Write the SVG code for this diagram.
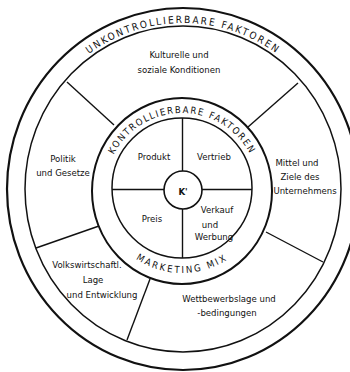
<svg xmlns="http://www.w3.org/2000/svg" width="350" height="372" viewBox="0 0 350 372">
<style>
.ring{fill:none;stroke:#111;}
.div{stroke:#111;stroke-width:1.4;fill:none;}
.t{font-family:"DejaVu Sans Condensed","Liberation Sans",sans-serif;font-size:9.5px;fill:#111;text-anchor:middle;}
.c{font-family:"DejaVu Sans Condensed","Liberation Sans",sans-serif;fill:#111;text-anchor:middle;}
</style>
<defs>
<path id="pOuter" d="M 21 189 A 162 166 0 0 1 345 189"/>
<path id="pTop" d="M 105 190 A 77 77 0 0 1 259 190"/>
<path id="pBot" d="M 99 190 A 83 83 0 0 0 265 190"/>
</defs>
<rect width="350" height="372" fill="#fff"/>
<g id="rings">
<ellipse class="ring" cx="183" cy="189" rx="176" ry="181" stroke-width="2.2"/>
<ellipse class="ring" cx="183" cy="189" rx="158" ry="163" stroke-width="1.5"/>
<ellipse class="ring" cx="182" cy="191" rx="90" ry="93" stroke-width="2"/>
<circle class="ring" cx="182" cy="188" r="70" stroke-width="1.5"/>
</g>
<g id="connectors">
<line class="div" x1="67" y1="82" x2="114" y2="125"/>
<line class="div" x1="298" y1="83" x2="248" y2="127" stroke-width="1"/>
<line class="div" x1="36" y1="248" x2="99" y2="226"/>
<line class="div" x1="266" y1="232" x2="323" y2="262"/>
<line class="div" x1="150" y1="279" x2="127" y2="340"/>
<line class="div" x1="112" y1="189.5" x2="164" y2="189.5"/>
<line class="div" x1="202" y1="189.5" x2="252" y2="189.5"/>
<line class="div" x1="182.5" y1="118" x2="182.5" y2="171"/>
<line class="div" x1="182.5" y1="209" x2="182.5" y2="258"/>
</g>
<g id="band-labels">
<text class="c" font-size="10" letter-spacing="2"><textPath href="#pOuter" startOffset="50%">UNKONTROLLIERBARE  FAKTOREN</textPath></text>
<text class="c" font-size="9.5" letter-spacing="1.6"><textPath href="#pTop" startOffset="50%">KONTROLLIERBARE  FAKTOREN</textPath></text>
<text class="c" font-size="9.5" letter-spacing="2.2"><textPath href="#pBot" startOffset="50%">MARKETING MIX</textPath></text>
</g>
<g id="kultur"><text class="t" x="179" y="58">Kulturelle und</text><text class="t" x="179" y="73">soziale Konditionen</text></g>
<g id="politik"><text class="t" x="63" y="162">Politik</text><text class="t" x="63" y="176">und Gesetze</text></g>
<g id="mittel"><text class="t" x="297" y="166">Mittel und</text><text class="t" x="300" y="180">Ziele des</text><text class="t" x="305" y="194">Unternehmens</text></g>
<g id="volkswirtschaft"><text class="t" x="87" y="268">Volkswirtschaftl.</text><text class="t" x="93" y="283">Lage</text><text class="t" x="102" y="298">und Entwicklung</text></g>
<g id="wettbewerb"><text class="t" x="229" y="302">Wettbewerbslage und</text><text class="t" x="227" y="316">-bedingungen</text></g>
<g id="produkt"><text class="t" x="154" y="160">Produkt</text></g>
<g id="vertrieb"><text class="t" x="214" y="160">Vertrieb</text></g>
<g id="preis"><text class="t" x="152" y="222">Preis</text></g>
<g id="verkauf"><text class="t" x="217" y="213">Verkauf</text><text class="t" x="210" y="228">und</text><text class="t" x="214" y="240">Werbung</text></g>
<g id="kunde">
<circle class="ring" cx="183" cy="190" r="19" stroke-width="1.6"/>
<text class="t" x="183" y="195" font-weight="bold" font-size="11">K'</text>
</g>
</svg>
